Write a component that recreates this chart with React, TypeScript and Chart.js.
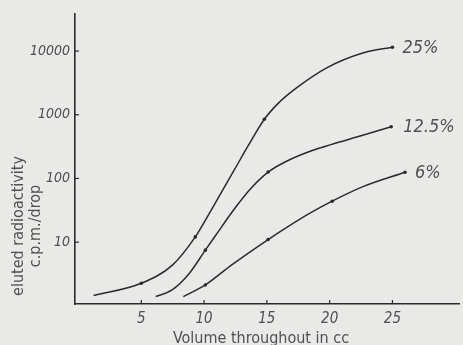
import React, { useEffect, useRef } from "react";
import { Chart, registerables } from "chart.js";
Chart.register(...registerables);

const volume25 = [1.2, 5.0, 7.5, 9.3, 10.35, 11.4, 12.45, 13.5, 14.8, 15.9, 17.2, 19.8, 22.7, 25.0];
const activity25 = [1.45, 2.26, 4.4, 12.1, 26.9, 61.7, 141, 324, 851, 1510, 2500, 5500, 9400, 11500];
const volume125 = [6.15, 7.45, 8.8, 10.1, 10.9, 12.45, 13.7, 15.1, 16.65, 18.5, 20.1, 22.7, 24.9];
const activity125 = [1.4, 1.78, 3.2, 7.5, 12.6, 34, 69, 126, 190, 270, 340, 480, 650];
const volume6 = [8.35, 10.1, 12.2, 15.1, 16.65, 18.5, 20.2, 22.7, 26.0];
const activity6 = [1.4, 2.13, 4.4, 11, 17.4, 29, 44, 75, 125];
const seriesLabels = ["25%", "12.5%", "6%"];
const xTicks = [5, 10, 15, 20, 25];
const yTicks = [10, 100, 1000, 10000];
const xTitle = "Volume throughout in cc";
const yTitle1 = "eluted radioactivity";
const yTitle2 = "c.p.m./drop";

const FONT = "'Liberation Sans Narrow', 'DejaVu Sans Condensed', 'Noto Sans', sans-serif";
const INK = "#2b2b2b";
const TXT = "#505050";
const BG = "#e9e9e7";

function pts(xs: number[], ys: number[]) {
  return xs.map((x, i) => ({ x, y: ys[i] }));
}

export default function App() {
  const ref = useRef<HTMLCanvasElement | null>(null);
  useEffect(() => {
    document.body.style.margin = "0";
    document.body.style.background = BG;
    const ctx = ref.current!;
    const mk = (n: number, idx: number[]) => Array.from({ length: n }, (_, i) => (idx.includes(i) ? 1.8 : 0));
    const decor = {
      id: "decor",
      beforeDraw(chart: any) {
        const c = chart.ctx;
        c.save();
        c.fillStyle = BG;
        c.fillRect(0, 0, chart.width, chart.height);
        c.restore();
      },
      afterDraw(chart: any) {
        const c = chart.ctx;
        const xs = chart.scales.x;
        const ys = chart.scales.y;
        const area = chart.chartArea;
        c.save();
        c.strokeStyle = INK;
        c.lineWidth = 1.2;
        xTicks.forEach((v) => {
          const px = xs.getPixelForValue(v);
          c.beginPath();
          c.moveTo(px, area.bottom);
          c.lineTo(px, area.bottom - 4);
          c.stroke();
        });
        yTicks.forEach((v) => {
          const py = ys.getPixelForValue(v);
          c.beginPath();
          c.moveTo(area.left, py);
          c.lineTo(area.left + 4, py);
          c.stroke();
        });
        c.fillStyle = TXT;
        c.font = `italic 18px ${FONT}`;
        c.textBaseline = "middle";
        c.textAlign = "left";
        const offs = [10, 12, 10];
        chart.data.datasets.forEach((ds: any, i: number) => {
          const last = ds.data[ds.data.length - 1];
          const px = xs.getPixelForValue(last.x);
          const py = ys.getPixelForValue(last.y);
          c.fillText(seriesLabels[i], px + offs[i], py + 1);
        });
        c.font = `16px ${FONT}`;
        c.textAlign = "center";
        c.textBaseline = "alphabetic";
        c.fillText(xTitle, 261, 343);
        c.save();
        c.translate(23, 226);
        c.rotate(-Math.PI / 2);
        c.font = `16px ${FONT}`;
        c.fillText(yTitle1, 0, 0);
        c.fillText(yTitle2, 0, 17);
        c.restore();
        c.restore();
      },
    };
    const chart = new Chart(ctx, {
      type: "line",
      data: {
        datasets: [
          {
            label: seriesLabels[0],
            data: pts(volume25, activity25),
            pointRadius: mk(volume25.length, [1, 3, 8, 13]),
          },
          {
            label: seriesLabels[1],
            data: pts(volume125, activity125),
            pointRadius: mk(volume125.length, [3, 7, 12]),
          },
          {
            label: seriesLabels[2],
            data: pts(volume6, activity6),
            pointRadius: mk(volume6.length, [1, 3, 6, 8]),
          },
        ].map((d) => ({
          ...d,
          borderColor: INK,
          backgroundColor: INK,
          borderWidth: 1.5,
          cubicInterpolationMode: "monotone" as const,
          pointBorderWidth: 0,
        })),
      },
      options: {
        animation: false,
        responsive: false,
        devicePixelRatio: 1,
        layout: { padding: { top: 12, right: 0, left: 0, bottom: 0 } },
        plugins: { legend: { display: false }, tooltip: { enabled: false } },
        scales: {
          x: {
            type: "linear",
            min: -0.28,
            max: 30.3,
            afterBuildTicks: (s: any) => {
              s.ticks = xTicks.map((v) => ({ value: v }));
            },
            afterFit: (s: any) => {
              s.height = 41;
            },
            grid: { display: false, drawTicks: false },
            border: { display: true, color: INK, width: 1.6 },
            ticks: {
              padding: 6,
              color: TXT,
              font: { family: FONT, size: 15, style: "italic" },
              maxRotation: 0,
              autoSkip: false,
              callback: (v: any) => String(v),
            },
          },
          y: {
            type: "logarithmic",
            min: 1.07,
            max: 39000,
            afterBuildTicks: (s: any) => {
              s.ticks = yTicks.map((v) => ({ value: v }));
            },
            afterFit: (s: any) => {
              s.width = 75;
            },
            grid: { display: false, drawTicks: false },
            border: { display: true, color: INK, width: 1.6 },
            ticks: {
              padding: 5,
              color: TXT,
              font: { family: FONT, size: 14, style: "italic" },
              autoSkip: false,
              callback: (v: any) => String(v),
            },
          },
        },
      },
      plugins: [decor],
    } as any);
    return () => chart.destroy();
  }, []);
  return (
    <div style={{ width: 463, height: 345 }}>
      <canvas ref={ref} width={463} height={345} style={{ display: "block" }} />
    </div>
  );
}
